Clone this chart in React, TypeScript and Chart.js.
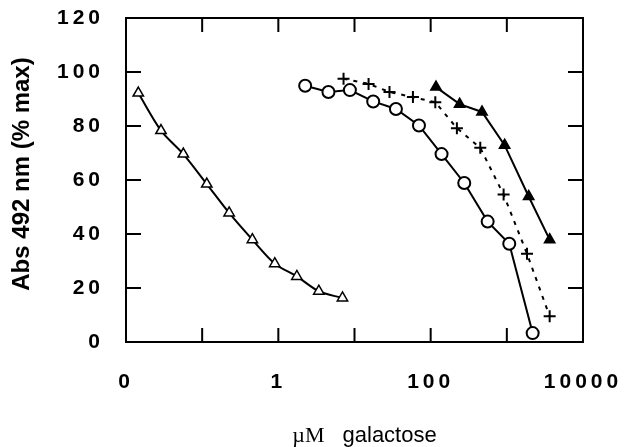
import React, { useEffect, useRef } from "react";
import { Chart, registerables } from "chart.js";

Chart.register(...registerables);

// µM galactose (x) vs Abs 492 nm (% max) (y)
const openTriX = [0.0145, 0.0288, 0.0566, 0.115, 0.226, 0.456, 0.898, 1.75, 3.4, 6.95];
const openTriY = [92.2, 78.3, 69.6, 58.5, 47.8, 37.9, 29.0, 24.3, 18.8, 16.3];
const circleX = [2.25, 4.55, 8.7, 17.6, 35.0, 70.2, 139, 276, 560, 1076, 2183];
const circleY = [94.9, 92.6, 93.3, 89.1, 86.3, 80.2, 69.6, 58.9, 44.6, 36.4, 3.3];
const plusX = [7.18, 15.3, 28.8, 58.5, 115, 221, 448, 907, 1840, 3650];
const plusY = [97.5, 95.6, 92.6, 90.7, 88.8, 79.2, 71.9, 54.6, 32.7, 9.5];
const filledTriX = [117.5, 240, 472, 935, 1935, 3650];
const filledTriY = [94.4, 88.1, 85.2, 72.9, 53.9, 37.9];

const xTickValues = [0.01, 0.1, 1, 10, 100, 1000, 10000];
const xTickLabels = ["0", "", "1", "", "100", "", "10000"];
const yTickValues = [0, 20, 40, 60, 80, 100, 120];
const yTickLabels = ["0", "20", "40", "60", "80", "100", "120"];

const yTitle = "Abs 492 nm (% max)";
const xTitleUnit = "\u00b5M";
const xTitleWord = "galactose";

const toPoints = (xs: number[], ys: number[]) => xs.map((x, i) => ({ x, y: ys[i] }));

const TICK_SPACING = "4px";

const zeroPadding = (scale: any) => {
  scale.paddingTop = 0;
  scale.paddingBottom = 0;
  scale.paddingLeft = 0;
  scale.paddingRight = 0;
};

const decorPlugin = {
  id: "decor",
  beforeLayout(chart: any) {
    chart.ctx.letterSpacing = TICK_SPACING;
  },
  beforeDraw(chart: any) {
    chart.ctx.letterSpacing = TICK_SPACING;
  },
  afterDraw(chart: any) {
    const ctx = chart.ctx as CanvasRenderingContext2D;
    const { left, right, top, bottom } = chart.chartArea;
    const xs = chart.scales.x;
    const ys = chart.scales.y;
    ctx.save();
    (ctx as any).letterSpacing = "0px";
    ctx.strokeStyle = "#000";
    ctx.lineWidth = 2;
    ctx.strokeRect(left, top, right - left, bottom - top);
    ctx.beginPath();
    xTickValues.slice(1, -1).forEach((v) => {
      const px = xs.getPixelForValue(v);
      ctx.moveTo(px, bottom);
      ctx.lineTo(px, bottom - 14);
      ctx.moveTo(px, top);
      ctx.lineTo(px, top + 14);
    });
    yTickValues.slice(1, -1).forEach((v) => {
      const py = ys.getPixelForValue(v);
      ctx.moveTo(left, py);
      ctx.lineTo(left + 15, py);
      ctx.moveTo(right, py);
      ctx.lineTo(right - 15, py);
    });
    ctx.stroke();

    ctx.fillStyle = "#000";
    // y title
    ctx.save();
    ctx.font = 'bold 24px "Liberation Sans", Arial, sans-serif';
    ctx.textAlign = "center";
    ctx.textBaseline = "middle";
    ctx.translate(left - 104, (top + bottom) / 2 - 6);
    ctx.rotate(-Math.PI / 2);
    ctx.fillText(yTitle, 0, 0);
    ctx.restore();

    // x title
    const serif = '22px "Liberation Serif", "Times New Roman", serif';
    const sans = '22px "Liberation Sans", Arial, sans-serif';
    ctx.font = serif;
    const w1 = ctx.measureText(xTitleUnit).width;
    ctx.font = sans;
    const w2 = ctx.measureText(xTitleWord).width;
    const gap = 18;
    const total = w1 + gap + w2;
    const cx = (left + right) / 2 + 10;
    const startX = cx - total / 2;
    const baseY = bottom + 100;
    ctx.textAlign = "left";
    ctx.textBaseline = "alphabetic";
    ctx.font = serif;
    ctx.fillText(xTitleUnit, startX, baseY);
    ctx.font = sans;
    ctx.fillText(xTitleWord, startX + w1 + gap, baseY);
    ctx.restore();
  },
};

export default function App() {
  const canvasRef = useRef<HTMLCanvasElement | null>(null);

  useEffect(() => {
    if (!canvasRef.current) return;
    const tickFont = { family: '"Liberation Sans", Arial, sans-serif', size: 21, weight: "bold" as const };
    const chart = new Chart(canvasRef.current, {
      type: "line",
      data: {
        datasets: [
          {
            label: "open triangles",
            data: toPoints(openTriX, openTriY),
            borderColor: "#000",
            borderWidth: 2,
            tension: 0.3,
            pointStyle: "triangle",
            pointRadius: 6,
            pointBorderWidth: 1.5,
            pointBackgroundColor: "#fff",
            pointBorderColor: "#000",
          },
          {
            label: "circles",
            data: toPoints(circleX, circleY),
            borderColor: "#000",
            borderWidth: 2,
            tension: 0,
            pointStyle: "circle",
            pointRadius: 6,
            pointBorderWidth: 2,
            pointBackgroundColor: "#fff",
            pointBorderColor: "#000",
          },
          {
            label: "crosses",
            data: toPoints(plusX, plusY),
            borderColor: "#000",
            borderWidth: 2,
            borderDash: [4, 6],
            tension: 0,
            pointStyle: "cross",
            pointRadius: 6,
            pointBorderWidth: 2,
            pointBackgroundColor: "#000",
            pointBorderColor: "#000",
          },
          {
            label: "filled triangles",
            data: toPoints(filledTriX, filledTriY),
            borderColor: "#000",
            borderWidth: 2,
            tension: 0,
            pointStyle: "triangle",
            pointRadius: 6,
            pointBorderWidth: 1.5,
            pointBackgroundColor: "#000",
            pointBorderColor: "#000",
          },
        ],
      },
      options: {
        animation: false,
        responsive: false,
        devicePixelRatio: 1,
        layout: { padding: { left: 0, right: 41, top: 18, bottom: 0 } },
        plugins: {
          legend: { display: false },
          tooltip: { enabled: false },
          title: { display: false },
        },
        scales: {
          x: {
            type: "logarithmic",
            min: 0.01,
            max: 10000,
            grid: { display: false, drawTicks: false },
            border: { display: false },
            afterBuildTicks: (scale: any) => {
              scale.ticks = xTickValues.map((v) => ({ value: v }));
            },
            afterFit: (scale: any) => {
              scale.height = 105;
              zeroPadding(scale);
            },
            ticks: {
              autoSkip: false,
              maxRotation: 0,
              minRotation: 0,
              padding: 28,
              color: "#000",
              font: tickFont,
              callback: (_v: any, i: number) => xTickLabels[i],
            },
          },
          y: {
            type: "linear",
            min: 0,
            max: 120,
            grid: { display: false, drawTicks: false },
            border: { display: false },
            afterBuildTicks: (scale: any) => {
              scale.ticks = yTickValues.map((v) => ({ value: v }));
            },
            afterFit: (scale: any) => {
              scale.width = 126;
              zeroPadding(scale);
            },
            ticks: {
              padding: 22,
              color: "#000",
              font: tickFont,
              callback: (_v: any, i: number) => yTickLabels[i],
            },
          },
        },
      },
      plugins: [decorPlugin],
    });
    return () => chart.destroy();
  }, []);

  return (
    <div style={{ position: "absolute", left: 0, top: 0, width: 624, height: 447, background: "#fff" }}>
      <canvas ref={canvasRef} width={624} height={447} style={{ display: "block" }} />
    </div>
  );
}
